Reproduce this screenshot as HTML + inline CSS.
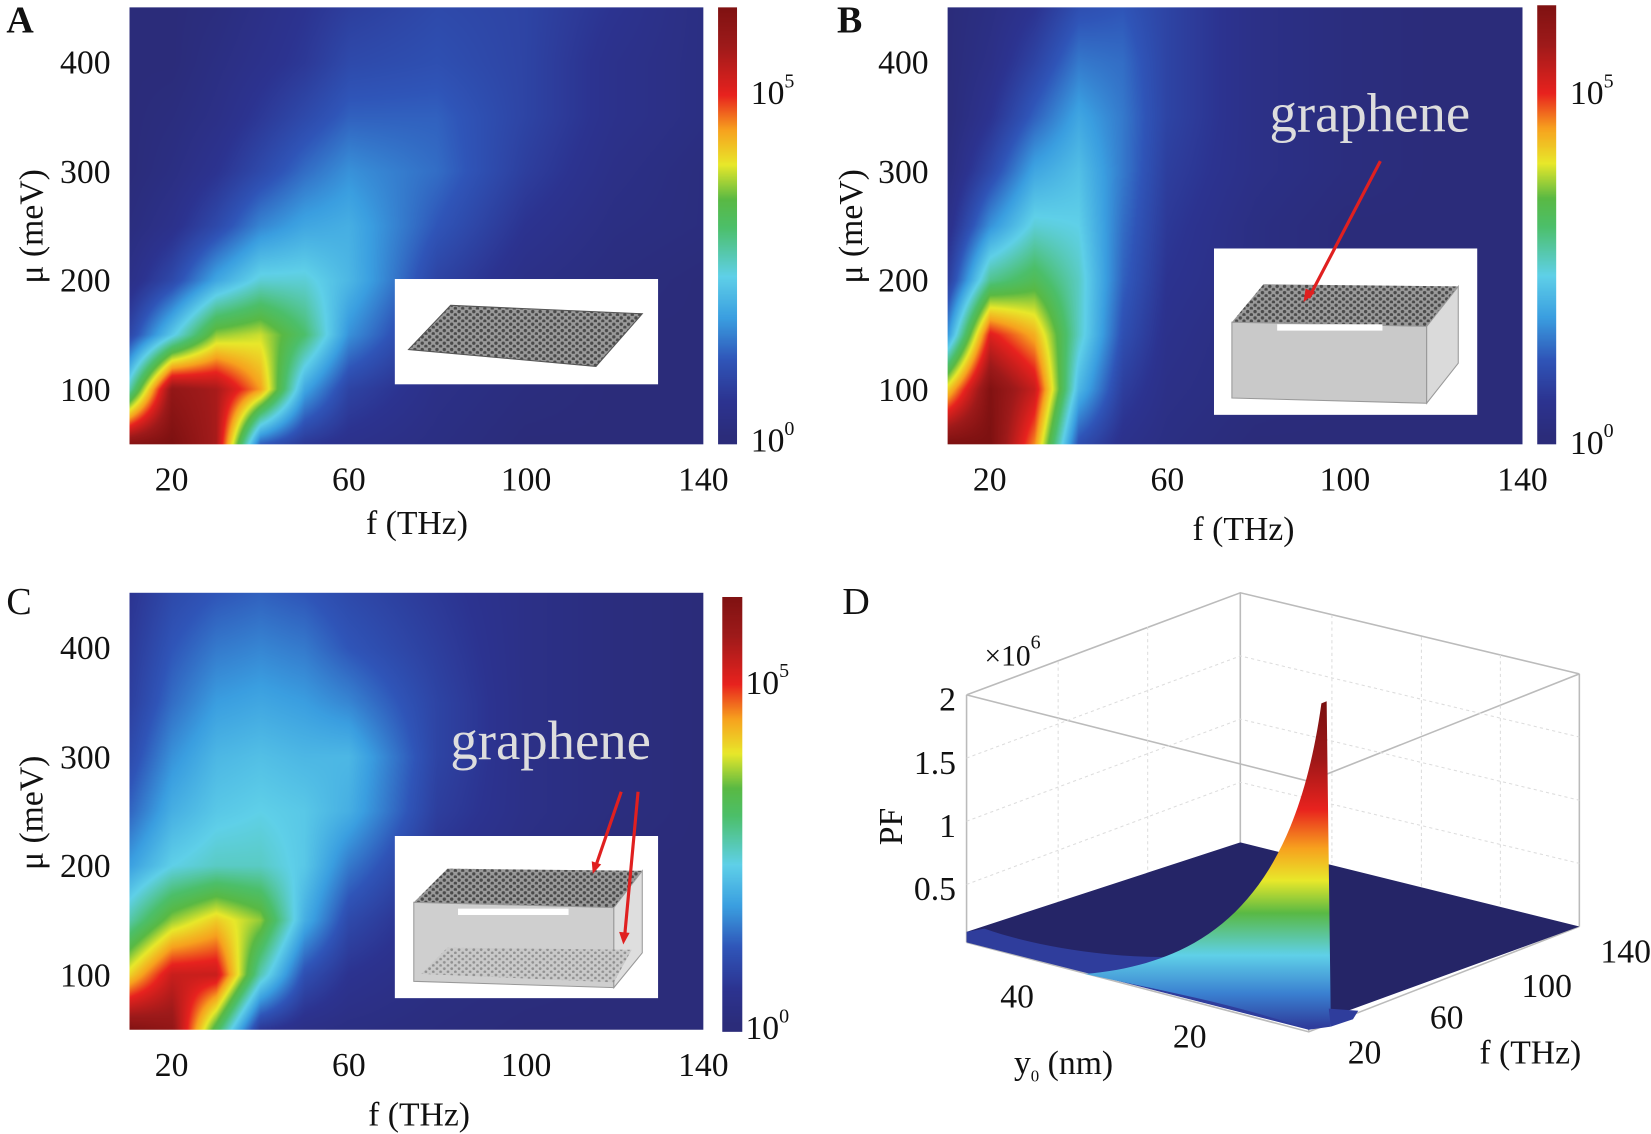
<!DOCTYPE html>
<html><head><meta charset="utf-8">
<style>
body{margin:0;background:#fff;width:1651px;height:1131px;overflow:hidden;position:relative;font-family:"Liberation Serif",serif;color:#111}
#wrap{position:absolute;left:0;top:0;width:1568px;height:1074px;transform:scale(1.0529);transform-origin:0 0}
.t{position:absolute;font-size:32px;line-height:1;white-space:nowrap}
.r{text-align:right}
.c{transform:translateX(-50%)}
.lab{position:absolute;font-size:32px;white-space:nowrap}
.rot{transform:translate(-50%,-50%) rotate(-90deg)}
canvas{position:absolute}
.letter{position:absolute;font-size:36px}
sup{font-size:19px;vertical-align:0;position:relative;top:-16px}
</style></head><body>
<div id="wrap">
<div class="letter" style="left:6px;top:-2px;font-weight:bold">A</div>
<div class="letter" style="left:795px;top:-2px;font-weight:bold">B</div>
<div class="letter" style="left:6px;top:550px">C</div>
<div class="letter" style="left:800px;top:550px">D</div>

<canvas id="hA" width="545" height="415" style="left:123px;top:7px"></canvas>
<canvas id="hB" width="546" height="415" style="left:900px;top:7px"></canvas>
<canvas id="hC" width="545" height="415" style="left:123px;top:563px"></canvas>
<canvas id="cA" width="18" height="415" style="left:682px;top:7px"></canvas>
<canvas id="cB" width="18" height="417" style="left:1460px;top:5px"></canvas>
<canvas id="cC" width="19" height="413" style="left:686px;top:567px"></canvas>

<div class="t" style="left:713px;top:72px">10<sup>5</sup></div>
<div class="t" style="left:713px;top:402px">10<sup>0</sup></div>
<div class="t" style="left:1491px;top:72px">10<sup>5</sup></div>
<div class="t" style="left:1491px;top:404px">10<sup>0</sup></div>
<div class="t" style="left:708px;top:632px">10<sup>5</sup></div>
<div class="t" style="left:708px;top:960px">10<sup>0</sup></div>

<div id="ticks"></div>

<div class="lab c" style="left:396px;top:478px">f (THz)</div>
<div class="lab c" style="left:1181px;top:484px">f (THz)</div>
<div class="lab c" style="left:398px;top:1040px">f (THz)</div>
<div class="lab rot" style="left:30px;top:215px">μ (meV)</div>
<div class="lab rot" style="left:808px;top:215px">μ (meV)</div>
<div class="lab rot" style="left:30px;top:772px">μ (meV)</div>

<svg width="1568" height="1074" style="position:absolute;left:0;top:0">
<defs>
<pattern id="hex" width="7" height="6" patternUnits="userSpaceOnUse">
<rect width="7" height="6" fill="#9a9a9a"/>
<circle cx="2" cy="2" r="1.6" fill="#4a4a4a"/><circle cx="5.5" cy="5" r="1.6" fill="#4a4a4a"/>
</pattern>
<pattern id="hexL" width="7" height="6" patternUnits="userSpaceOnUse">
<rect width="7" height="6" fill="#c8c8c8"/>
<circle cx="2" cy="2" r="1.3" fill="#8a8a8a"/><circle cx="5.5" cy="5" r="1.3" fill="#8a8a8a"/>
</pattern>
<linearGradient id="spike" x1="0" y1="667" x2="0" y2="975" gradientUnits="userSpaceOnUse">
<stop offset="0" stop-color="#7a1010"/><stop offset="0.18" stop-color="#a01818"/>
<stop offset="0.33" stop-color="#e8221e"/><stop offset="0.45" stop-color="#f7a11e"/>
<stop offset="0.55" stop-color="#e8e82a"/><stop offset="0.65" stop-color="#59b944"/>
<stop offset="0.78" stop-color="#5fd0e8"/><stop offset="0.9" stop-color="#3a7fd0"/>
<stop offset="1" stop-color="#2f3d9c"/>
</linearGradient>
</defs>
<g>
<rect x="375" y="265" width="250" height="100" fill="#fff"/>
<polygon points="388,332 428,290 610,298 566,348" fill="url(#hex)" stroke="#555" stroke-width="1"/>
</g>
<g>
<rect x="1153" y="236" width="250" height="158" fill="#fff"/>
<polygon points="1170,306 1200,270 1385,272 1355,310" fill="url(#hex)"/>
<polygon points="1170,306 1355,310 1355,383 1170,378" fill="#c9c9c9" stroke="#999"/>
<polygon points="1355,310 1385,272 1385,345 1355,383" fill="#dadada" stroke="#999"/>
<rect x="1213" y="308" width="100" height="6" fill="#fff"/>
<line x1="1311" y1="153" x2="1243" y2="283" stroke="#e02020" stroke-width="3"/>
<polygon points="1238,287 1240,274 1249,278" fill="#e02020"/>
</g>
<text x="1301" y="125" font-family="Liberation Serif" font-size="52" fill="#ddd" text-anchor="middle">graphene</text>
<g>
<rect x="375" y="794" width="250" height="154" fill="#fff"/>
<polygon points="393,857 425,825 610,827 583,862" fill="url(#hex)"/>
<polygon points="393,857 583,862 583,938 393,932" fill="#cfcfcf" stroke="#999"/>
<polygon points="583,862 610,827 610,905 583,938" fill="#dedede" stroke="#999"/>
<polygon points="400,925 425,900 600,902 583,933" fill="url(#hexL)" opacity="0.9"/>
<rect x="435" y="863" width="105" height="6" fill="#fff"/>
<line x1="590" y1="752" x2="565" y2="825" stroke="#e02020" stroke-width="3"/>
<line x1="606" y1="752" x2="593" y2="892" stroke="#e02020" stroke-width="3"/>
<polygon points="563,830 562,818 571,821" fill="#e02020"/>
<polygon points="592,897 588,885 598,886" fill="#e02020"/>
</g>
<text x="523" y="721" font-family="Liberation Serif" font-size="52" fill="#ddd" text-anchor="middle">graphene</text>

<g fill="none" stroke="#bbb" stroke-width="1.5">
<polyline points="918,660 1178,563 1500,640"/>
<polyline points="918,660 1243,742 1500,640"/>
<line x1="1178" y1="563" x2="1178" y2="800"/>
<line x1="918" y1="660" x2="918" y2="895"/>
<line x1="1243" y1="742" x2="1243" y2="980"/>
<line x1="1500" y1="640" x2="1500" y2="880"/>
<polyline points="918,895 1243,980 1500,880"/>
<g stroke="#ddd" stroke-dasharray="3,3" stroke-width="1">
<polyline points="918,720 1178,623 1500,700"/><polyline points="918,780 1178,683 1500,760"/><polyline points="918,840 1178,743 1500,820"/>
<line x1="1005" y1="628" x2="1005" y2="868"/><line x1="1090" y1="595" x2="1090" y2="835"/>
<line x1="1265" y1="584" x2="1265" y2="820"/><line x1="1350" y1="605" x2="1350" y2="842"/><line x1="1425" y1="622" x2="1425" y2="860"/>
</g>
</g>
<polygon points="918,885 1178,800 1500,880 1258,968" fill="#252567"/>
<path d="M918,885 L935,882 C1000,905 1100,915 1150,905 L1250,965 L1243,978 L918,895 Z" fill="#2f3d9c"/>
<path d="M1030,925 C1150,915 1230,850 1255,668 L1260,666 L1264,975 L1243,978 C1180,955 1100,940 1030,925 Z" fill="url(#spike)"/>
<path d="M1264,975 L1285,968 L1290,960 L1262,958 Z" fill="#2f3d9c"/>
</svg>

<div class="t" style="left:935px;top:610px;font-size:28px">×10<sup>6</sup></div>
<div class="t r" style="left:850px;top:648px;width:58px">2</div>
<div class="t r" style="left:850px;top:708px;width:58px">1.5</div>
<div class="t r" style="left:850px;top:768px;width:58px">1</div>
<div class="t r" style="left:850px;top:828px;width:58px">0.5</div>
<div class="lab rot" style="left:846px;top:785px">PF</div>
<div class="t" style="left:950px;top:930px">40</div>
<div class="t" style="left:1114px;top:968px">20</div>
<div class="lab" style="left:963px;top:991px">y<sub style="font-size:16px">0</sub> (nm)</div>
<div class="t" style="left:1280px;top:983px">20</div>
<div class="t" style="left:1358px;top:950px">60</div>
<div class="t" style="left:1445px;top:920px">100</div>
<div class="t" style="left:1520px;top:887px">140</div>
<div class="lab" style="left:1405px;top:981px">f (THz)</div>
</div>

<script>
const fGrid=[10,20,30,40,50,60,80,100,120,140];
const muGrid=[50,100,150,200,250,300,350,400,450];
const valsA=[
[6,2.5,0.8,0.3,0.1,0,0,0,0],
[6.2,5.8,2.2,0.9,0.4,0.2,0.1,0,0],
[5.5,5.5,3.6,1.8,0.9,0.5,0.3,0.2,0.1],
[1.2,4.4,3.8,2.4,1.5,0.9,0.6,0.4,0.3],
[0.6,1.8,3.0,2.4,1.8,1.3,0.9,0.6,0.5],
[0.4,0.8,1.6,2.0,1.9,1.6,1.2,0.9,0.7],
[0.2,0.3,0.5,0.8,1.1,1.3,1.2,1.0,0.9],
[0,0.1,0.2,0.3,0.5,0.7,0.8,0.8,0.8],
[0,0,0,0.1,0.2,0.3,0.4,0.4,0.5],
[0,0,0,0,0.1,0.1,0.2,0.2,0.2]];
const valsB=[
[6.2,4,1.5,0.6,0.3,0.1,0,0,0],
[6.2,6.1,5,2.8,1.6,0.9,0.5,0.3,0.2],
[4.5,5.2,4.3,3.2,2.4,1.8,1.2,0.8,0.5],
[1,2.0,2.5,2.5,2.3,2.1,1.8,1.4,1.0],
[0.4,0.7,1.0,1.2,1.3,1.4,1.4,1.3,1.1],
[0.2,0.3,0.4,0.5,0.6,0.7,0.8,0.8,0.8],
[0,0.1,0.1,0.2,0.2,0.3,0.3,0.3,0.3],
[0,0,0,0,0,0.1,0.1,0.1,0.1],
[0,0,0,0,0,0,0,0,0],
[0,0,0,0,0,0,0,0,0]];
const valsC=[
[6.1,4,2.6,1.7,1.2,0.9,0.7,0.6,0.5],
[5.8,5.2,3.6,2.3,1.9,1.6,1.3,1.1,0.9],
[3.2,5.2,4.1,2.5,2.2,2,1.7,1.4,1.1],
[0.6,2.6,3.6,2.5,2.3,2.1,1.8,1.5,1.2],
[0.3,1.0,1.9,2.2,2.2,2,1.7,1.4,1.1],
[0.2,0.5,0.9,1.4,1.9,2.0,1.5,1.1,0.9],
[0.1,0.2,0.3,0.5,0.7,0.8,0.8,0.7,0.6],
[0,0.1,0.1,0.2,0.3,0.3,0.3,0.3,0.3],
[0,0,0,0,0.1,0.1,0.1,0.1,0.1],
[0,0,0,0,0,0,0,0,0]];
const xTicks=[20,60,100,140];
const yTicks=[100,200,300,400];
const cmapPos=[0,0.5,1.1,1.7,2.3,3.0,3.4,3.9,4.4,4.9,5.6,6.25];
const cmapCol=["#2b2c7a","#2c3390","#2f55b8","#3a9ee0","#5fd0e8","#4cbf6a","#59b944","#e8e82a","#f7a11e","#e8221e","#9e1a1a","#7a1010"];
const F0=10.5,F1=140,M0=50,M1=450,VMAX=6.25;
function hex(c){return [parseInt(c.slice(1,3),16),parseInt(c.slice(3,5),16),parseInt(c.slice(5,7),16)];}
const cm=cmapCol.map(hex);
function color(v){
  v=Math.max(0,Math.min(VMAX,v));
  for(let i=0;i<cmapPos.length-1;i++){
    if(v<=cmapPos[i+1]){const t=(v-cmapPos[i])/(cmapPos[i+1]-cmapPos[i]);
      return cm[i].map((a,k)=>a+(cm[i+1][k]-a)*t);}
  }
  return cm[cm.length-1];
}
function idx(arr,x){
  if(x<=arr[0])return [0,0];
  for(let i=0;i<arr.length-1;i++){if(x<=arr[i+1])return [i,(x-arr[i])/(arr[i+1]-arr[i])];}
  return [arr.length-2,1];
}
function sample(vals,f,mu){
  const [i,sx]=idx(fGrid,f),[j,sy]=idx(muGrid,mu);
  const a=vals[i][j],b=vals[i+1][j],c=vals[i][j+1],d=vals[i+1][j+1];
  return (a*(1-sx)+b*sx)*(1-sy)+(c*(1-sx)+d*sx)*sy;
}
function drawHeat(id,vals){
  const cv=document.getElementById(id),ctx=cv.getContext('2d'),W=cv.width,H=cv.height;
  const img=ctx.createImageData(W,H);
  for(let y=0;y<H;y++){const mu=M1-(y/(H-1))*(M1-M0);
    for(let x=0;x<W;x++){const f=F0+(x/(W-1))*(F1-F0);
      const c=color(sample(vals,f,mu));const p=(y*W+x)*4;
      img.data[p]=c[0];img.data[p+1]=c[1];img.data[p+2]=c[2];img.data[p+3]=255;}}
  ctx.putImageData(img,0,0);
}
function drawBar(id){
  const cv=document.getElementById(id),ctx=cv.getContext('2d'),W=cv.width,H=cv.height;
  for(let y=0;y<H;y++){const v=VMAX*(1-y/(H-1))-0.1;const c=color(v);
    ctx.fillStyle='rgb('+c.map(Math.round).join(',')+')';ctx.fillRect(0,y,W,1);}
}
drawHeat('hA',valsA);drawHeat('hB',valsB);drawHeat('hC',valsC);
drawBar('cA');drawBar('cB');drawBar('cC');
const panels=[{n:'a',x0:123,x1:668,y0:7,y1:422,ylx:105,xly:439},{n:'b',x0:900,x1:1446,y0:7,y1:422,ylx:882,xly:439},{n:'c',x0:123,x1:668,y0:563,y1:978,ylx:105,xly:995}];
const tk=document.getElementById('ticks');
panels.forEach(p=>{
  xTicks.forEach(v=>{
    const d=document.createElement('div');d.className='t c';
    d.style.left=(p.x0+(v-F0)/(F1-F0)*(p.x1-p.x0))+'px';d.style.top=p.xly+'px';d.textContent=v;
    
    
    tk.appendChild(d);
  });
  yTicks.forEach(v=>{
    const d=document.createElement('div');d.className='t r';d.style.width='70px';
    d.style.left=(p.ylx-70)+'px';d.style.top=(p.y1-(v-M0)/(M1-M0)*(p.y1-p.y0)-16)+'px';d.textContent=v;
    
    
    tk.appendChild(d);
  });
});
</script>
</body></html>
